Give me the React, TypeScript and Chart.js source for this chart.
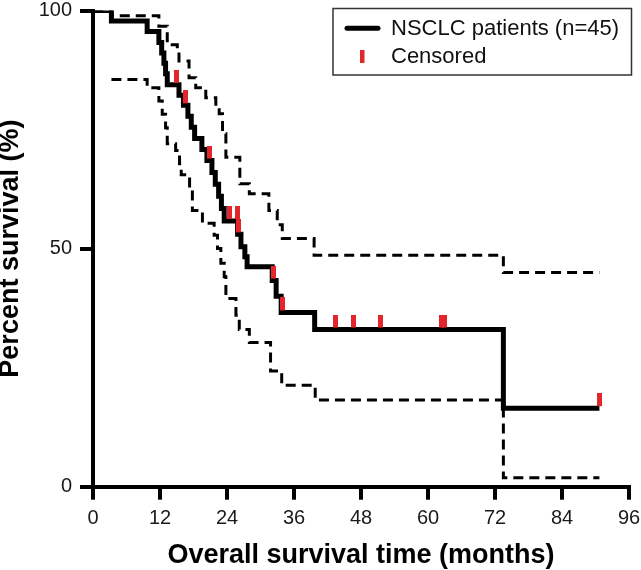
import React, { useEffect, useRef } from "react";
import { Chart, registerables } from "chart.js";

Chart.register(...registerables);

// ---- Data ----
const seriesLabel = "NSCLC patients (n=45)";
const censorLabel = "Censored";
const xTitle = "Overall survival time (months)";
const yTitle = "Percent survival (%)";

const xMin = 0;
const xMax = 96;
const xStep = 12;
const yMin = 0;
const yMax = 100;
const yStep = 50;

// Kaplan-Meier estimate: time at which the curve steps to the new value
const survTimes = [0, 3.3, 9.7, 11.8, 12.3, 12.7, 13.0, 13.3, 15.4, 16.2, 17.0, 17.6, 18.2, 19.5, 20.4, 21.3, 21.9, 22.5, 23.0, 23.5, 25.9, 26.5, 27.2, 27.6, 32.1, 32.8, 33.7, 39.7, 73.5, 90.7];
const survValues = [100, 97.8, 95.6, 93.3, 91.1, 88.9, 86.7, 84.4, 82.2, 80.1, 77.8, 75.5, 73.1, 70.8, 68.5, 66.0, 63.5, 61.0, 58.4, 55.8, 53.0, 50.4, 48.3, 46.2, 43.3, 40.0, 36.6, 33.0, 16.5, 16.5];

// Upper 95% confidence band
const upperTimes = [0, 3.3, 11.8, 13.3, 15.1, 15.4, 17.2, 18.4, 20.2, 22.0, 22.6, 23.2, 23.8, 26.3, 28.0, 31.5, 33.0, 33.9, 39.6, 73.5, 90.7];
const upperValues = [100, 98.9, 96.7, 92.8, 91.8, 89.4, 85.9, 83.8, 81.7, 79.6, 78.3, 74.1, 69.2, 63.6, 61.5, 58.0, 55.0, 52.1, 48.6, 45.0, 45.0];

// Lower 95% confidence band
const lowerTimes = [3.3, 9.7, 11.8, 12.4, 13.0, 13.3, 14.8, 15.5, 15.8, 17.3, 17.8, 19.6, 21.7, 22.3, 22.9, 23.5, 23.8, 25.6, 26.2, 28.0, 31.8, 33.8, 39.8, 73.5, 90.7];
const lowerValues = [85.5, 83.8, 81.0, 78.2, 75.4, 72.0, 70.6, 67.8, 65.5, 62.2, 58.0, 55.3, 52.8, 50.0, 46.9, 44.1, 39.5, 36.0, 33.0, 30.3, 24.3, 21.3, 18.2, 1.9, 1.9];

// Censored observations
const censorTimes = [14.9, 16.6, 20.8, 24.5, 25.9, 26.0, 32.3, 33.9, 43.5, 46.6, 51.5, 62.5, 63.0, 90.7];
const censorValues = [84.4, 80.1, 68.5, 55.8, 55.8, 53.0, 43.3, 36.6, 33.0, 33.0, 33.0, 33.0, 33.0, 16.5];

const FONT = "'Liberation Sans', Arial, Helvetica, sans-serif";
const RED = "#e3262b";

const toPoints = (xs: number[], ys: number[]) => xs.map((x, i) => ({ x, y: ys[i] }));

function makeCensorMark(): HTMLCanvasElement {
  const c = document.createElement("canvas");
  c.width = 5;
  c.height = 30;
  const g = c.getContext("2d")!;
  g.fillStyle = RED;
  g.fillRect(0, 0, 5, 13);
  return c;
}

const legendPlugin = {
  id: "kmLegend",
  afterDraw(chart: any) {
    const ctx = chart.ctx as CanvasRenderingContext2D;
    ctx.save();
    ctx.fillStyle = "#fff";
    ctx.fillRect(333, 8.5, 298.5, 66.5);
    ctx.strokeStyle = "#333";
    ctx.lineWidth = 1.5;
    ctx.strokeRect(333, 8.5, 298.5, 66.5);
    // series sample
    ctx.strokeStyle = "#000";
    ctx.lineWidth = 5;
    ctx.lineCap = "round";
    ctx.beginPath();
    ctx.moveTo(347, 28.3);
    ctx.lineTo(378, 28.3);
    ctx.stroke();
    // censor sample
    ctx.fillStyle = RED;
    ctx.fillRect(360, 50, 4.5, 13);
    ctx.fillStyle = "#111";
    ctx.font = `22px ${FONT}`;
    ctx.textBaseline = "middle";
    ctx.textAlign = "left";
    ctx.fillText(seriesLabel, 391, 29);
    ctx.fillText(censorLabel, 391, 57);
    ctx.restore();
  },
};

export default function App() {
  const ref = useRef<HTMLCanvasElement | null>(null);

  useEffect(() => {
    if (!ref.current) return;
    const mark = makeCensorMark();
    const chart = new Chart(ref.current, {
      type: "line",
      data: {
        datasets: [
          {
            label: censorLabel,
            data: toPoints(censorTimes, censorValues),
            showLine: false,
            pointStyle: mark as any,
            pointRadius: 6,
            pointHoverRadius: 6,
            order: 0,
          } as any,
          {
            label: seriesLabel,
            data: toPoints(survTimes, survValues),
            stepped: "before",
            borderColor: "#000",
            borderWidth: 5,
            pointRadius: 0,
            fill: false,
            borderJoinStyle: "miter",
            borderCapStyle: "butt",
            order: 1,
          } as any,
          {
            label: "Upper 95% CI",
            data: toPoints(upperTimes, upperValues),
            stepped: "before",
            borderColor: "#000",
            borderWidth: 3,
            borderDash: [10, 6],
            pointRadius: 0,
            fill: false,
            order: 2,
          } as any,
          {
            label: "Lower 95% CI",
            data: toPoints(lowerTimes, lowerValues),
            stepped: "before",
            borderColor: "#000",
            borderWidth: 3,
            borderDash: [10, 6],
            pointRadius: 0,
            fill: false,
            order: 2,
          } as any,
        ],
      },
      options: {
        animation: false,
        responsive: true,
        maintainAspectRatio: false,
        events: [],
        layout: { padding: { top: 10.5, right: 12, left: 0, bottom: 0 } },
        plugins: {
          legend: { display: false },
          tooltip: { enabled: false },
        },
        scales: {
          x: {
            type: "linear",
            min: xMin,
            max: xMax,
            afterFit: (s: any) => {
              s.height = 83.3;
              s.paddingLeft = 0;
              s.paddingRight = 0;
            },
            ticks: {
              stepSize: xStep,
              color: "#1a1a1a",
              font: { family: FONT, size: 20 },
              padding: 7,
              maxRotation: 0,
            },
            grid: {
              drawOnChartArea: false,
              drawTicks: true,
              tickLength: 13,
              lineWidth: 4,
              color: "#000",
            },
            border: { display: true, width: 4, color: "#000" },
            title: {
              display: true,
              text: xTitle,
              color: "#000",
              font: { family: FONT, size: 27, weight: "bold", lineHeight: 1.0 },
              padding: { top: 0, bottom: 1 },
            },
          },
          y: {
            min: yMin,
            max: yMax,
            afterFit: (s: any) => {
              s.width = 93;
              s.paddingTop = 0;
              s.paddingBottom = 0;
            },
            ticks: {
              stepSize: yStep,
              color: "#1a1a1a",
              font: { family: FONT, size: 20 },
              padding: 8,
            },
            grid: {
              drawOnChartArea: false,
              drawTicks: true,
              tickLength: 13,
              lineWidth: 4,
              color: "#000",
            },
            border: { display: true, width: 4, color: "#000" },
            title: {
              display: true,
              text: yTitle,
              color: "#000",
              font: { family: FONT, size: 27, weight: "bold", lineHeight: 0.8 },
              padding: { top: 0, bottom: 0 },
            },
          },
        },
      } as any,
      plugins: [legendPlugin],
    });
    return () => chart.destroy();
  }, []);

  return (
    <div style={{ position: "absolute", left: 0, top: 0, width: 641, height: 570, background: "#fff" }}>
      <canvas ref={ref} />
    </div>
  );
}
